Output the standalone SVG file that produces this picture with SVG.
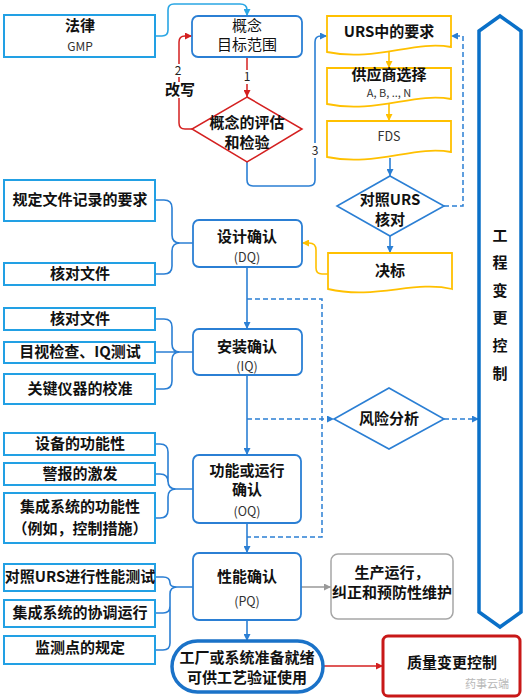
<svg xmlns="http://www.w3.org/2000/svg" width="524" height="700" viewBox="0 0 524 700">
<defs>
<style>
text{font-family:"Noto Sans CJK SC","Noto Sans",sans-serif;text-anchor:middle;fill:#111;}
.b{font-size:15px;font-weight:bold;}
.r{font-size:15px;}
.s{font-size:12.5px;fill:#333;}
.lb{fill:#fff;stroke:#22a0e4;stroke-width:2;}
.mb{fill:#fff;stroke:#2b7fd4;stroke-width:1.8;}
.doc{fill:#fff;stroke:#ffc000;stroke-width:1.8;}
.c{fill:none;stroke:#2b7fd4;stroke-width:1.6;}
.cl{fill:none;stroke:#2aa6e4;stroke-width:1.6;}
.cr{fill:none;stroke:#d42020;stroke-width:1.5;}
.cy{fill:none;stroke:#ffc000;stroke-width:1.6;}
.cg{fill:none;stroke:#999;stroke-width:1.5;}
.cd{fill:none;stroke:#2b7fd4;stroke-width:1.5;stroke-dasharray:5 3;}
.lab{font-size:12px;fill:#222;}
</style>
<marker id="ab" viewBox="0 0 10 10" refX="10" refY="5" markerWidth="7" markerHeight="7" orient="auto" markerUnits="userSpaceOnUse"><path d="M0,0L10,5L0,10z" fill="#2b7fd4"/></marker>
<marker id="al" viewBox="0 0 10 10" refX="10" refY="5" markerWidth="7" markerHeight="7" orient="auto" markerUnits="userSpaceOnUse"><path d="M0,0L10,5L0,10z" fill="#2aa6e4"/></marker>
<marker id="ar" viewBox="0 0 10 10" refX="10" refY="5" markerWidth="7" markerHeight="7" orient="auto" markerUnits="userSpaceOnUse"><path d="M0,0L10,5L0,10z" fill="#d42020"/></marker>
<marker id="ay" viewBox="0 0 10 10" refX="10" refY="5" markerWidth="7" markerHeight="7" orient="auto" markerUnits="userSpaceOnUse"><path d="M0,0L10,5L0,10z" fill="#ffc000"/></marker>
<marker id="ag" viewBox="0 0 10 10" refX="10" refY="5" markerWidth="7" markerHeight="7" orient="auto" markerUnits="userSpaceOnUse"><path d="M0,0L10,5L0,10z" fill="#999"/></marker>
</defs>
<rect width="524" height="700" fill="#fff"/>

<g id="connectors">
<path class="cl" d="M155,36 H162 Q168,36 168,30 V10 Q168,4 174,4 H240 Q247,4 247,10 V16" marker-end="url(#al)"/>
<path class="cr" d="M247,57 V97" marker-end="url(#ar)"/>
<path class="cr" d="M192,129 H185 Q179,129 179,123 V42 Q179,36 185,36 H192" marker-end="url(#ar)"/>
<path class="c" d="M247,162 V180 Q247,186 253,186 H309 Q315,186 315,180 V42 Q315,36 321,36 H327" marker-end="url(#ab)"/>
<path class="cy" d="M389,52 V68" marker-end="url(#ay)"/>
<path class="cy" d="M389,104 V121" marker-end="url(#ay)"/>
<path class="c" d="M390,158 V176" marker-end="url(#ab)"/>
<path class="c" d="M390,236 V253" marker-end="url(#ab)"/>
<path class="cd" d="M444,206 H463 V36 H451" marker-end="url(#ab)"/>
<path class="cy" d="M328,274 H322 Q316,274 316,268 V250 Q316,243 309,243 H302" marker-end="url(#ay)"/>
<path class="c" d="M155,200 H164 Q172,200 172,208 V235 Q172,243 180,243 H193 M155,274 H164 Q172,274 172,266 V251 Q172,243 180,243"/>
<path class="c" d="M155,319 H164 Q172,319 172,327 V344 Q172,352 180,352 H193 M155,352 H180 M155,389 H164 Q172,389 172,381 V360 Q172,352 180,352"/>
<path class="c" d="M155,444 H160 Q168,444 168,452 V481 Q168,489 176,489 H193 M155,474 H160 Q168,474 168,482 M155,518 H160 Q168,518 168,510 V497 Q168,489 176,489"/>
<path class="c" d="M155,577 H163 Q170,577 170,583 Q170,587 177,587 H193 M155,613 H163 Q170,613 170,606 M155,650 H163 Q170,650 170,643 V594 Q170,587 177,587"/>
<path class="c" d="M247,267 V329" marker-end="url(#ab)"/>
<path class="c" d="M247,375 V455" marker-end="url(#ab)"/>
<path class="c" d="M247,523 V553" marker-end="url(#ab)"/>
<path class="c" d="M247,620 V641" marker-end="url(#ab)"/>
<path class="cd" d="M247,299 H322 V537 H247"/>
<path class="cd" d="M247,419 H334" marker-end="url(#ab)"/>
<path class="cd" d="M444,419 H479" marker-end="url(#ab)"/>
<path class="cg" d="M301,587 H331" marker-end="url(#ag)"/>
<path class="cr" d="M323,666 H383" marker-end="url(#ar)"/>
<rect x="242" y="70" width="10" height="14" fill="#fff"/>
<text class="lab" x="247" y="81">1</text>
<rect x="173" y="64" width="12" height="13" fill="#fff"/>
<text class="lab" x="178" y="75">2</text>
<rect x="165" y="82" width="30" height="16" fill="#fff"/>
<text class="b" x="180" y="95">改写</text>
<rect x="309" y="143" width="12" height="15" fill="#fff"/>
<text class="lab" x="315" y="155">3</text>
</g>

<g id="n-law"><rect class="lb" x="4" y="15" width="151" height="42"/><text class="b" x="80" y="31">法律</text><text x="80" y="51" style="font-size:12px;fill:#333;">GMP</text></g>
<g id="n-concept"><rect class="mb" x="192" y="16" width="110" height="41" rx="6"/><text class="r" x="247" y="31">概念</text><text class="r" x="247" y="50">目标范围</text></g>
<g id="n-eval"><polygon points="247,97 302,129 247,162 192,129" fill="#fff" stroke="#d42020" stroke-width="1.5"/><text class="b" x="247" y="128">概念的评估</text><text class="b" x="247" y="148">和检验</text></g>
<g id="n-urs"><path class="doc" d="M327,16 H451 V47 C415,40 375,62 327,52 Z"/><text class="b" x="389" y="37">URS中的要求</text></g>
<g id="n-supplier"><path class="doc" d="M327,68 H451 V99 C415,92 375,114 327,104 Z"/><text class="b" x="389" y="80">供应商选择</text><text x="389" y="97" style="font-size:11px;fill:#333;">A, B, .., N</text></g>
<g id="n-fds"><path class="doc" d="M327,121 H451 V152 C415,145 375,167 327,157 Z"/><text class="s" x="389" y="141">FDS</text></g>
<g id="n-check"><polygon points="390,176 444,206 390,236 337,206" fill="#fff" stroke="#2b7fd4" stroke-width="1.6"/><text class="b" x="390" y="205">对照URS</text><text class="b" x="390" y="225">核对</text></g>
<g id="n-award"><path class="doc" d="M328,253 H452 V289 C415,280 375,300 328,289 Z"/><text class="b" x="390" y="276">决标</text></g>
<g id="n-ecc"><polygon points="500,16 521,31 521,612 500,627 479,612 479,31" fill="#fff" stroke="#0a70c8" stroke-width="3.5"/>
<text class="b" x="500" y="241">工</text><text class="b" x="500" y="268">程</text><text class="b" x="500" y="296">变</text><text class="b" x="500" y="323">更</text><text class="b" x="500" y="351">控</text><text class="b" x="500" y="379">制</text></g>

<g id="n-dq-req"><rect class="lb" x="4" y="180" width="151" height="41"/><text class="b" x="80" y="205">规定文件记录的要求</text></g>
<g id="n-dq-doc"><rect class="lb" x="4" y="263" width="151" height="22"/><text class="b" x="80" y="279">核对文件</text></g>
<g id="n-dq"><rect class="mb" x="193" y="220" width="109" height="47" rx="6"/><text class="b" x="247" y="242">设计确认</text><text class="s" x="247" y="262">(DQ)</text></g>

<g id="n-iq-doc"><rect class="lb" x="4" y="308" width="151" height="22"/><text class="b" x="80" y="324">核对文件</text></g>
<g id="n-iq-test"><rect class="lb" x="4" y="342" width="151" height="21"/><text class="b" x="80" y="357">目视检查、IQ测试</text></g>
<g id="n-iq-cal"><rect class="lb" x="4" y="374" width="151" height="30"/><text class="b" x="80" y="394">关键仪器的校准</text></g>
<g id="n-iq"><rect class="mb" x="193" y="329" width="109" height="46" rx="6"/><text class="b" x="247" y="352">安装确认</text><text class="s" x="247" y="371">(IQ)</text></g>

<g id="n-risk"><polygon points="389,388 444,419 389,449 334,419" fill="#fff" stroke="#2b7fd4" stroke-width="1.6"/><text class="b" x="389" y="424">风险分析</text></g>

<g id="n-oq-eq"><rect class="lb" x="4" y="433" width="151" height="22"/><text class="b" x="80" y="449">设备的功能性</text></g>
<g id="n-oq-al"><rect class="lb" x="4" y="463" width="151" height="22"/><text class="b" x="80" y="479">警报的激发</text></g>
<g id="n-oq-sys"><rect class="lb" x="4" y="493" width="151" height="50"/><text class="b" x="80" y="512">集成系统的功能性</text><text class="b" x="80" y="534">（例如，控制措施）</text></g>
<g id="n-oq"><rect class="mb" x="193" y="455" width="108" height="68" rx="6"/><text class="b" x="247" y="476">功能或运行</text><text class="b" x="247" y="495">确认</text><text class="s" x="247" y="516">(OQ)</text></g>

<g id="n-pq-urs"><rect class="lb" x="4" y="564" width="151" height="27"/><text class="b" x="80" y="582">对照URS进行性能测试</text></g>
<g id="n-pq-sys"><rect class="lb" x="4" y="600" width="151" height="27"/><text class="b" x="80" y="618">集成系统的协调运行</text></g>
<g id="n-pq-mon"><rect class="lb" x="4" y="636" width="151" height="28"/><text class="b" x="80" y="653">监测点的规定</text></g>
<g id="n-pq"><rect class="mb" x="193" y="553" width="108" height="67" rx="6"/><text class="b" x="247" y="582">性能确认</text><text class="s" x="247" y="606">(PQ)</text></g>

<g id="n-prod"><rect x="331" y="554" width="122" height="65" rx="7" fill="#fff" stroke="#a6a6a6" stroke-width="1.5"/><text class="b" x="392" y="578">生产运行，</text><text class="b" x="392" y="598">纠正和预防性维护</text></g>
<g id="n-ready"><rect x="172" y="641" width="151" height="51" rx="25.5" fill="#fff" stroke="#1a72c8" stroke-width="3.5"/><text class="b" x="247" y="663">工厂或系统准备就绪</text><text class="b" x="247" y="683">可供工艺验证使用</text></g>
<g id="n-qcc"><rect x="383" y="636" width="137" height="60" rx="5" fill="#fff" stroke="#c81818" stroke-width="3"/><text class="b" x="452" y="668">质量变更控制</text></g>
<text x="487" y="688" style="font-size:11px;fill:#b8b8b8;">药事云端</text>
</svg>
